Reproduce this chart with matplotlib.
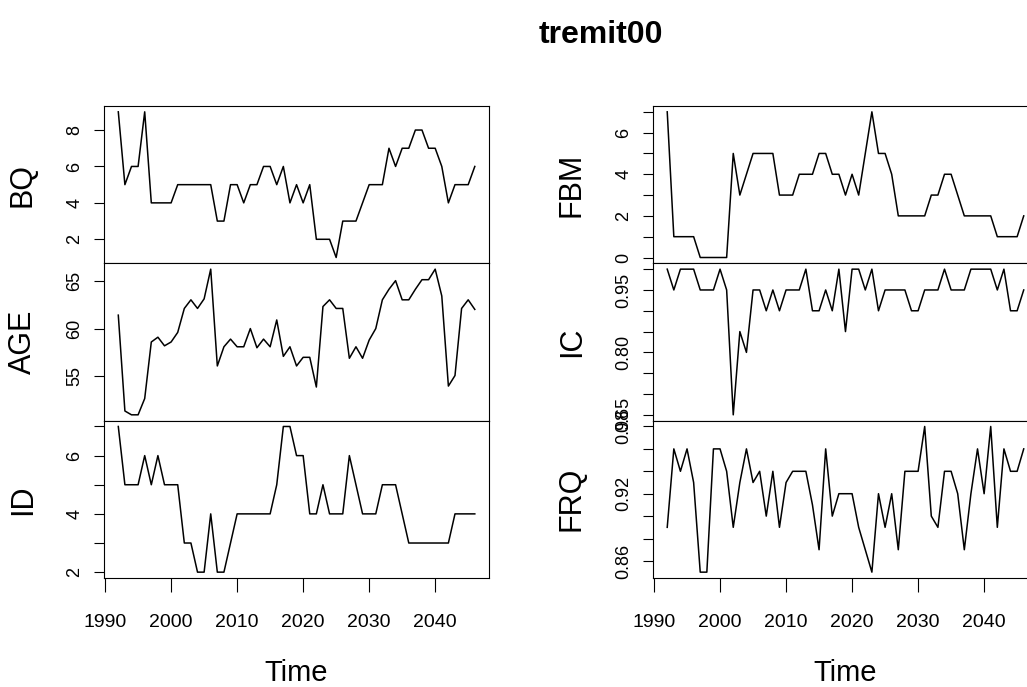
import numpy as np
import matplotlib.pyplot as plt

plt.rcParams['font.family'] = ['Liberation Sans', 'DejaVu Sans']

# yearly series, 1992 - 2046
start_year = 1992

bq = [9, 5, 6, 6, 9, 4, 4, 4, 4, 5, 5, 5, 5, 5, 5, 3, 3, 5, 5, 4,
      5, 5, 6, 6, 5, 6, 4, 5, 4, 5, 2, 2, 2, 1, 3, 3, 3, 4, 5, 5,
      5, 7, 6, 7, 7, 8, 8, 7, 7, 6, 4, 5, 5, 5, 6]
age = [61.4, 51.4, 51.0, 51.0, 52.7, 58.6, 59.1, 58.2, 58.6, 59.6,
       62.1, 63.0, 62.1, 63.1, 66.2, 56.1, 58.1, 58.9, 58.1, 58.1,
       60.0, 58.0, 58.9, 58.1, 60.9, 57.1, 58.1, 56.1, 57.0, 57.0,
       53.9, 62.3, 63.0, 62.1, 62.1, 56.9, 58.1, 56.9, 58.8, 60.0,
       63.0, 64.1, 65.0, 63.0, 63.0, 64.1, 65.1, 65.1, 66.2, 63.4,
       54.0, 55.1, 62.1, 63.0, 62.0]
id_ = [7, 5, 5, 5, 6, 5, 6, 5, 5, 5, 3, 3, 2, 2, 4, 2, 2, 3, 4, 4,
       4, 4, 4, 4, 5, 7, 7, 6, 6, 4, 4, 5, 4, 4, 4, 6, 5, 4, 4, 4,
       5, 5, 5, 4, 3, 3, 3, 3, 3, 3, 3, 4, 4, 4, 4]
fbm = [7, 1, 1, 1, 1, 0, 0, 0, 0, 0, 5, 3, 4, 5, 5, 5, 5, 3, 3, 3,
       4, 4, 4, 5, 5, 4, 4, 3, 4, 3, 5, 7, 5, 5, 4, 2, 2, 2, 2, 2,
       3, 3, 4, 4, 3, 2, 2, 2, 2, 2, 1, 1, 1, 1, 2]
ic = [1.00, 0.95, 1.00, 1.00, 1.00, 0.95, 0.95, 0.95, 1.00, 0.95,
      0.65, 0.85, 0.80, 0.95, 0.95, 0.90, 0.95, 0.90, 0.95, 0.95,
      0.95, 1.00, 0.90, 0.90, 0.95, 0.90, 1.00, 0.85, 1.00, 1.00,
      0.95, 1.00, 0.90, 0.95, 0.95, 0.95, 0.95, 0.90, 0.90, 0.95,
      0.95, 0.95, 1.00, 0.95, 0.95, 0.95, 1.00, 1.00, 1.00, 1.00,
      0.95, 1.00, 0.90, 0.90, 0.95]
frq = [0.89, 0.96, 0.94, 0.96, 0.93, 0.85, 0.85, 0.96, 0.96, 0.94,
       0.89, 0.93, 0.96, 0.93, 0.94, 0.90, 0.94, 0.89, 0.93, 0.94,
       0.94, 0.94, 0.91, 0.87, 0.96, 0.90, 0.92, 0.92, 0.92, 0.89,
       0.87, 0.85, 0.92, 0.89, 0.92, 0.87, 0.94, 0.94, 0.94, 0.98,
       0.90, 0.89, 0.94, 0.94, 0.92, 0.87, 0.92, 0.96, 0.92, 0.98,
       0.89, 0.96, 0.94, 0.94, 0.96]

years = np.arange(start_year, start_year + len(bq))

# y ticks and the labels R kept (overlapping ones dropped)
bq_ticks = [2, 4, 6, 8]
bq_labels = ['2', '4', '6', '8']
age_ticks = [55, 60, 65]
age_labels = ['55', '60', '65']
id_ticks = [2, 3, 4, 5, 6, 7]
id_labels = ['2', '', '4', '', '6', '']
fbm_ticks = [0, 1, 2, 3, 4, 5, 6, 7]
fbm_labels = ['0', '', '2', '', '4', '', '6', '']
ic_ticks = [0.65, 0.70, 0.75, 0.80, 0.85, 0.90, 0.95, 1.00]
ic_labels = ['0.65', '', '', '0.80', '', '', '0.95', '']
frq_ticks = [0.86, 0.88, 0.90, 0.92, 0.94, 0.96, 0.98]
frq_labels = ['0.86', '', '', '0.92', '', '', '0.98']

x_ticks = [1990, 2000, 2010, 2020, 2030, 2040]

columns = [
    [('BQ', bq, bq_ticks, bq_labels),
     ('AGE', age, age_ticks, age_labels),
     ('ID', id_, id_ticks, id_labels)],
    [('FBM', fbm, fbm_ticks, fbm_labels),
     ('IC', ic, ic_ticks, ic_labels),
     ('FRQ', frq, frq_ticks, frq_labels)],
]

fig = plt.figure(figsize=(10.27, 6.87), dpi=100)

x0s = [0.1013, 0.6358]
w = 0.3749
top = 0.8457
bottom = 0.1587
h = (top - bottom) / 3

span = years[-1] - years[0]
xlim = (years[0] - 0.04 * span, years[-1] + 0.04 * span)

for c, col in enumerate(columns):
    for r, (name, vals, ticks, labels) in enumerate(col):
        ax = fig.add_axes([x0s[c], top - (r + 1) * h, w, h])
        ax.plot(years, vals, color='black', lw=1.1)
        vmin, vmax = min(vals), max(vals)
        pad = 0.04 * (vmax - vmin)
        ax.set_ylim(vmin - pad, vmax + pad)
        ax.set_xlim(*xlim)
        ax.set_yticks(ticks)
        ax.set_yticklabels(labels, rotation=90, va='center', fontsize=13)
        ax.tick_params(axis='y', length=7, width=0.8, pad=8)
        for s in ax.spines.values():
            s.set_linewidth(0.8)
        ax.set_ylabel(name, fontsize=22)
        ax.yaxis.set_label_coords(-0.172, 0.5)
        ax.set_xticks(x_ticks)
        if r == 2:
            ax.tick_params(axis='x', length=10, width=0.8, pad=16, labelsize=14)
            ax.set_xlabel('Time', fontsize=21, labelpad=20)
        else:
            ax.tick_params(axis='x', length=0, labelbottom=False)

fig.text(601 / 1027, 1 - 43 / 687, 'tremit00', ha='center', va='baseline',
         fontsize=23, fontweight='bold')

plt.savefig('out.png', dpi=100)
